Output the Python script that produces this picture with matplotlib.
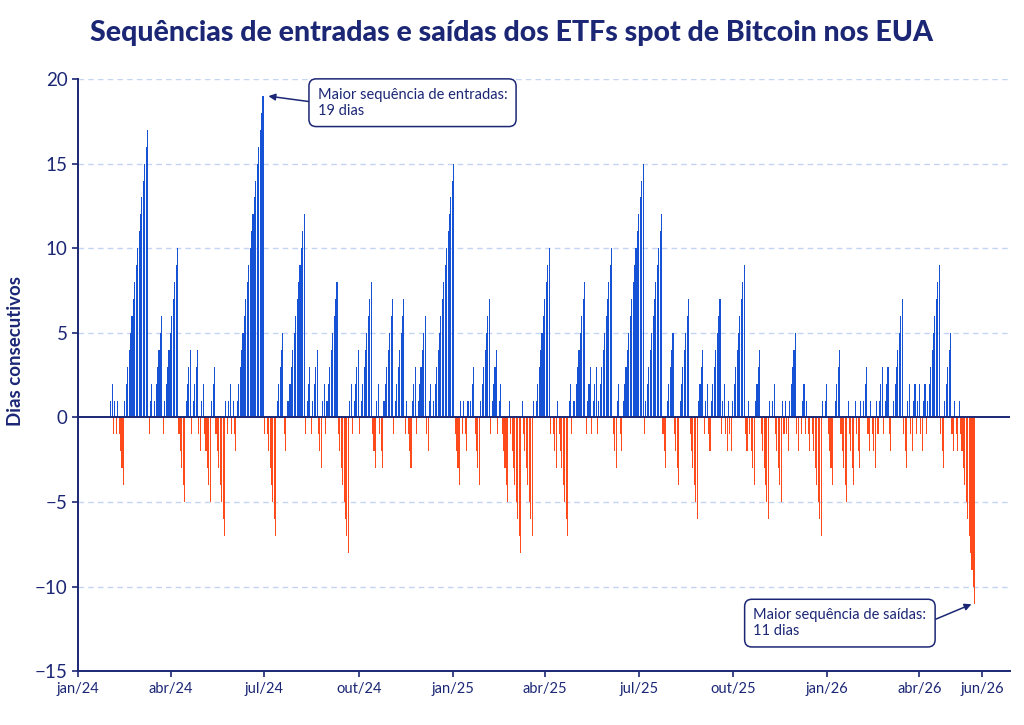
import matplotlib
matplotlib.use("Agg")
import matplotlib.pyplot as plt
import pandas as pd

# Streak lengths, in order.
# + = consecutive inflow days, - = consecutive outflow days, 0 = a flat day
streaks = [
    2, -1, 1, -1, 1, -4, 17, -1, 2, 0, 6, -1, 10,
    -5, 4, -1, 4, -2, 2, -5, 3, -7, 1, -1, 2, -1, 1, -2, 19,
    -1, 0, -7, 5, -2, 1, 12, -1, 3, -1, 4, -3, 2, -1, 8, -8,
    2, -1, 4, -1, 8, -3, 2, -3, 7, -1, 7, -1, 1, -3, 3, -1, 6,
    -2, 2, 0, 15, -4, 1, -1, 1, -2, 1, 0, 3, -4, 7, -1, 4, -1, 2,
    -5, 1, -8, 1, -7, 1, 0, 10, -1, 0, -3, 1, -7, 2, -1, 1, 8,
    -1, 3, -1, 3, -1, 10, -3, 2, -2, 15, -1, 12, -3,
    5, -4, 7, -6, 4, -1, 2, -2, 7, -1, 2, -2, 1, -2, 9,
    -2, 1, -4, 4, -6, 1, 0, 2, -5, 1, -1, 1, -2, 5, -2, 0, -1, 2, -1, 1, -2, 0, -7, 1, 0, 2,
    -4, 0, 4, -5, 1, -4, 1, -3, 1, 0, 3, -2, 1, -3, 1, -1, 3, -1, 3, -2, 0, 7, -3, 2,
    -2, 2, -1, 2, -2, 2, -1, 9, -3, 5, -2, 1, -2, 1, -11,
]
first_day = "2024-02-02"
last_day = "2026-05-25"

tick_dates = ["2024-01-01", "2024-04-01", "2024-07-01", "2024-10-01", "2025-01-01",
              "2025-04-01", "2025-07-01", "2025-10-01", "2026-01-01", "2026-04-01",
              "2026-06-01"]
tick_labels = ["jan/24", "abr/24", "jul/24", "out/24", "jan/25", "abr/25",
               "jul/25", "out/25", "jan/26", "abr/26", "jun/26"]
y_ticks = [-15, -10, -5, 0, 5, 10, 15, 20]

NAVY = "#1b2775"
BLUE = "#1552d6"
RED = "#ff4a1c"

plt.rcParams["font.family"] = ["Lato", "DejaVu Sans"]

# expand each streak into its running day counter
values = []
for s in streaks:
    if s == 0:
        values.append(0)
    else:
        sign = 1 if s > 0 else -1
        values.extend(sign * k for k in range(1, abs(s) + 1))

days = pd.date_range(first_day, last_day, periods=len(values))
df = pd.DataFrame({"day": days, "value": values})
pos = df[df["value"] > 0]
neg = df[df["value"] < 0]

fig = plt.figure(figsize=(10.24, 7.25), dpi=100)
ax = fig.add_axes([0.076, 0.074, 0.910, 0.817])

ax.bar(pos["day"], pos["value"], width=1.05, color=BLUE, linewidth=0, zorder=3)
ax.bar(neg["day"], neg["value"], width=1.05, color=RED, linewidth=0, zorder=3)

ax.axhline(0, color=NAVY, linewidth=1.4, zorder=4)
for y in y_ticks:
    if y not in (0, -15):
        ax.axhline(y, color="#c3d4f4", linewidth=1.0, linestyle=(0, (4, 3)), zorder=1)

ax.set_xlim(pd.Timestamp("2024-01-01"), pd.Timestamp("2026-06-28"))
ax.set_ylim(-15, 20)
ax.set_yticks(y_ticks)
ax.set_yticklabels([f"{v}".replace("-", "\u2212") for v in y_ticks])
ax.set_xticks(pd.to_datetime(tick_dates))
ax.set_xticklabels(tick_labels)

for side in ("top", "right"):
    ax.spines[side].set_visible(False)
for side in ("left", "bottom"):
    ax.spines[side].set_color(NAVY)
    ax.spines[side].set_linewidth(1.4)
ax.tick_params(axis="y", colors=NAVY, labelsize=13.5, length=4, width=1.2)
ax.tick_params(axis="x", colors=NAVY, labelsize=10.5, length=4, width=1.2)

ax.set_ylabel("Dias consecutivos", color=NAVY, fontsize=13.5, fontweight="bold")
ax.yaxis.set_label_coords(-0.058, 0.54)
fig.suptitle("Sequências de entradas e saídas dos ETFs spot de Bitcoin nos EUA",
             x=0.5, y=0.972, color=NAVY, fontsize=20.5, fontweight="black")

# annotations for the longest streaks
imax = df["value"].idxmax()
imin = df["value"].idxmin()
box = dict(boxstyle="round,pad=0.6,rounding_size=0.5", facecolor="white",
           edgecolor=NAVY, linewidth=1.1)

ax.annotate("Maior sequência de entradas:\n19 dias",
            xy=(df["day"][imax] + pd.Timedelta(days=4), df["value"][imax]),
            xytext=(pd.Timestamp("2024-08-22"), 18.6),
            ha="left", va="center", fontsize=10.5, color=NAVY, bbox=box, zorder=6,
            arrowprops=dict(arrowstyle="-|>", color=NAVY, lw=1.1, relpos=(0, 0.5),
                            shrinkA=0, shrinkB=1, mutation_scale=10))

ax.annotate("Maior sequência de saídas:\n11 dias",
            xy=(df["day"][imin] - pd.Timedelta(days=2), df["value"][imin]),
            xytext=(pd.Timestamp("2025-10-21"), -12.15),
            ha="left", va="center", fontsize=10.5, color=NAVY, bbox=box, zorder=6,
            arrowprops=dict(arrowstyle="-|>", color=NAVY, lw=1.1, relpos=(1, 0.5),
                            shrinkA=0, shrinkB=1, mutation_scale=10))

fig.savefig("out.png", dpi=100, facecolor="white")
